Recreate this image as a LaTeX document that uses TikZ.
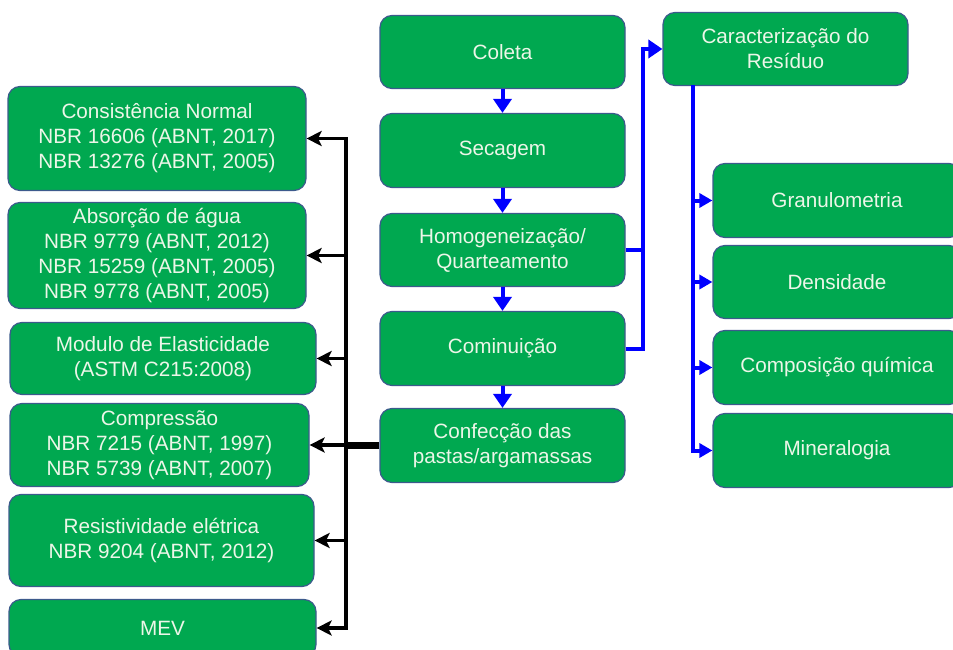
\documentclass[tikz,border=0pt]{standalone}
\usepackage{fontspec}
\setmainfont{Liberation Sans}
\usetikzlibrary{arrows.meta}
\definecolor{boxfill}{RGB}{0,168,80}
\definecolor{boxedge}{RGB}{60,90,140}
\definecolor{boxtext}{RGB}{236,246,232}
\definecolor{flowblue}{RGB}{0,0,255}
\tikzset{
  box/.style={draw=boxedge, line width=1.2pt, fill=boxfill, rounded corners=12pt,
    text=boxtext, align=center, inner sep=0pt,
    font=\fontsize{20.7}{25}\selectfont},
  bline/.style={draw=flowblue, line width=4pt, line join=miter},
  barrow/.style={bline, -{Triangle[length=14pt,width=18pt]}},
  sarrow/.style={bline, -{Triangle[length=13pt,width=14pt]}},
  kline/.style={draw=black, line width=3.5pt, line join=miter},
  kstealth/.style={Stealth[length=15pt,width=15pt,inset=3.5pt]},
  karrow/.style={kline, -{Stealth[length=15pt,width=15pt,inset=3.5pt]}}
}
\newcommand{\mybox}[6]{% name, x1, y1, x2, y2, text
  \node[box, minimum width={#4pt-#2pt}, minimum height={#5pt-#3pt}]
    (#1) at ({(#2+#4)/2},{(#3+#5)/2+1.5}) {#6};}
\begin{document}
\begin{tikzpicture}[x=1pt,y=-1pt]
\useasboundingbox (0,0) rectangle (953,650);
% center column
\mybox{coleta}{380}{14}{625}{87}{Coleta}
\mybox{secagem}{380}{112}{625}{186}{Secagem}
\mybox{homog}{380}{212}{625}{285}{Homogeneização/\\Quarteamento}
\mybox{comin}{380}{310}{625}{384}{Cominuição}
\mybox{confec}{380}{407}{625}{481}{Confecção das\\pastas/argamassas}
% right
\mybox{carac}{663}{11}{908}{84}{Caracterização do\\Resíduo}
\mybox{gran}{713}{162}{961}{236}{Granulometria}
\mybox{dens}{713}{244}{961}{317}{Densidade}
\mybox{comp}{713}{329}{961}{403}{Composição química}
\mybox{miner}{713}{412}{961}{486}{Mineralogia}
% left
\mybox{cons}{8}{85}{306}{189}{Consistência Normal\\NBR 16606 (ABNT, 2017)\\NBR 13276 (ABNT, 2005)}
\mybox{absor}{8}{201}{306}{307}{Absorção de água\\NBR 9779 (ABNT, 2012)\\NBR 15259 (ABNT, 2005)\\NBR 9778 (ABNT, 2005)}
\mybox{modulo}{10}{321}{316}{393}{Modulo de Elasticidade\\(ASTM C215:2008)}
\mybox{compr}{10}{402}{309}{485}{Compressão\\NBR 7215 (ABNT, 1997)\\NBR 5739 (ABNT, 2007)}
\mybox{resist}{9}{493}{314}{585}{Resistividade elétrica\\NBR 9204 (ABNT, 2012)}
\mybox{mev}{9}{598}{316}{655}{MEV}
% blue flow
\draw[barrow] (coleta.south) -- (secagem.north);
\draw[barrow] (secagem.south) -- (homog.north);
\draw[barrow] (homog.south) -- (comin.north);
\draw[barrow] (comin.south) -- (confec.north);
\coordinate (bj) at (643,49);
\draw[bline] (homog.east) -- (homog.east -| bj);
\draw[barrow] (comin.east) -| (bj) -- (carac.west);
\coordinate (rtop) at (693,85);
\draw[sarrow] (rtop) |- (miner.west);
\draw[sarrow] (rtop |- gran.west) -- (gran.west);
\draw[sarrow] (rtop |- dens.west) -- (dens.west);
\draw[sarrow] (rtop |- comp.west) -- (comp.west);
% black flow
\coordinate (bx) at (346,628);
\draw[kline, line width=6.5pt] (confec.west) -- (confec.west -| bx);
\draw[kline, {Stealth[length=15pt,width=15pt,inset=3.5pt]}-{Stealth[length=15pt,width=15pt,inset=3.5pt]}] (cons.east) -| (bx) -- (mev.east);
\draw[karrow] (bx |- absor.east) -- (absor.east);
\draw[karrow] (bx |- modulo.east) -- (modulo.east);
\draw[karrow] (bx |- compr.east) -- (compr.east);
\draw[karrow] (bx |- resist.east) -- (resist.east);
\end{tikzpicture}
\end{document}
